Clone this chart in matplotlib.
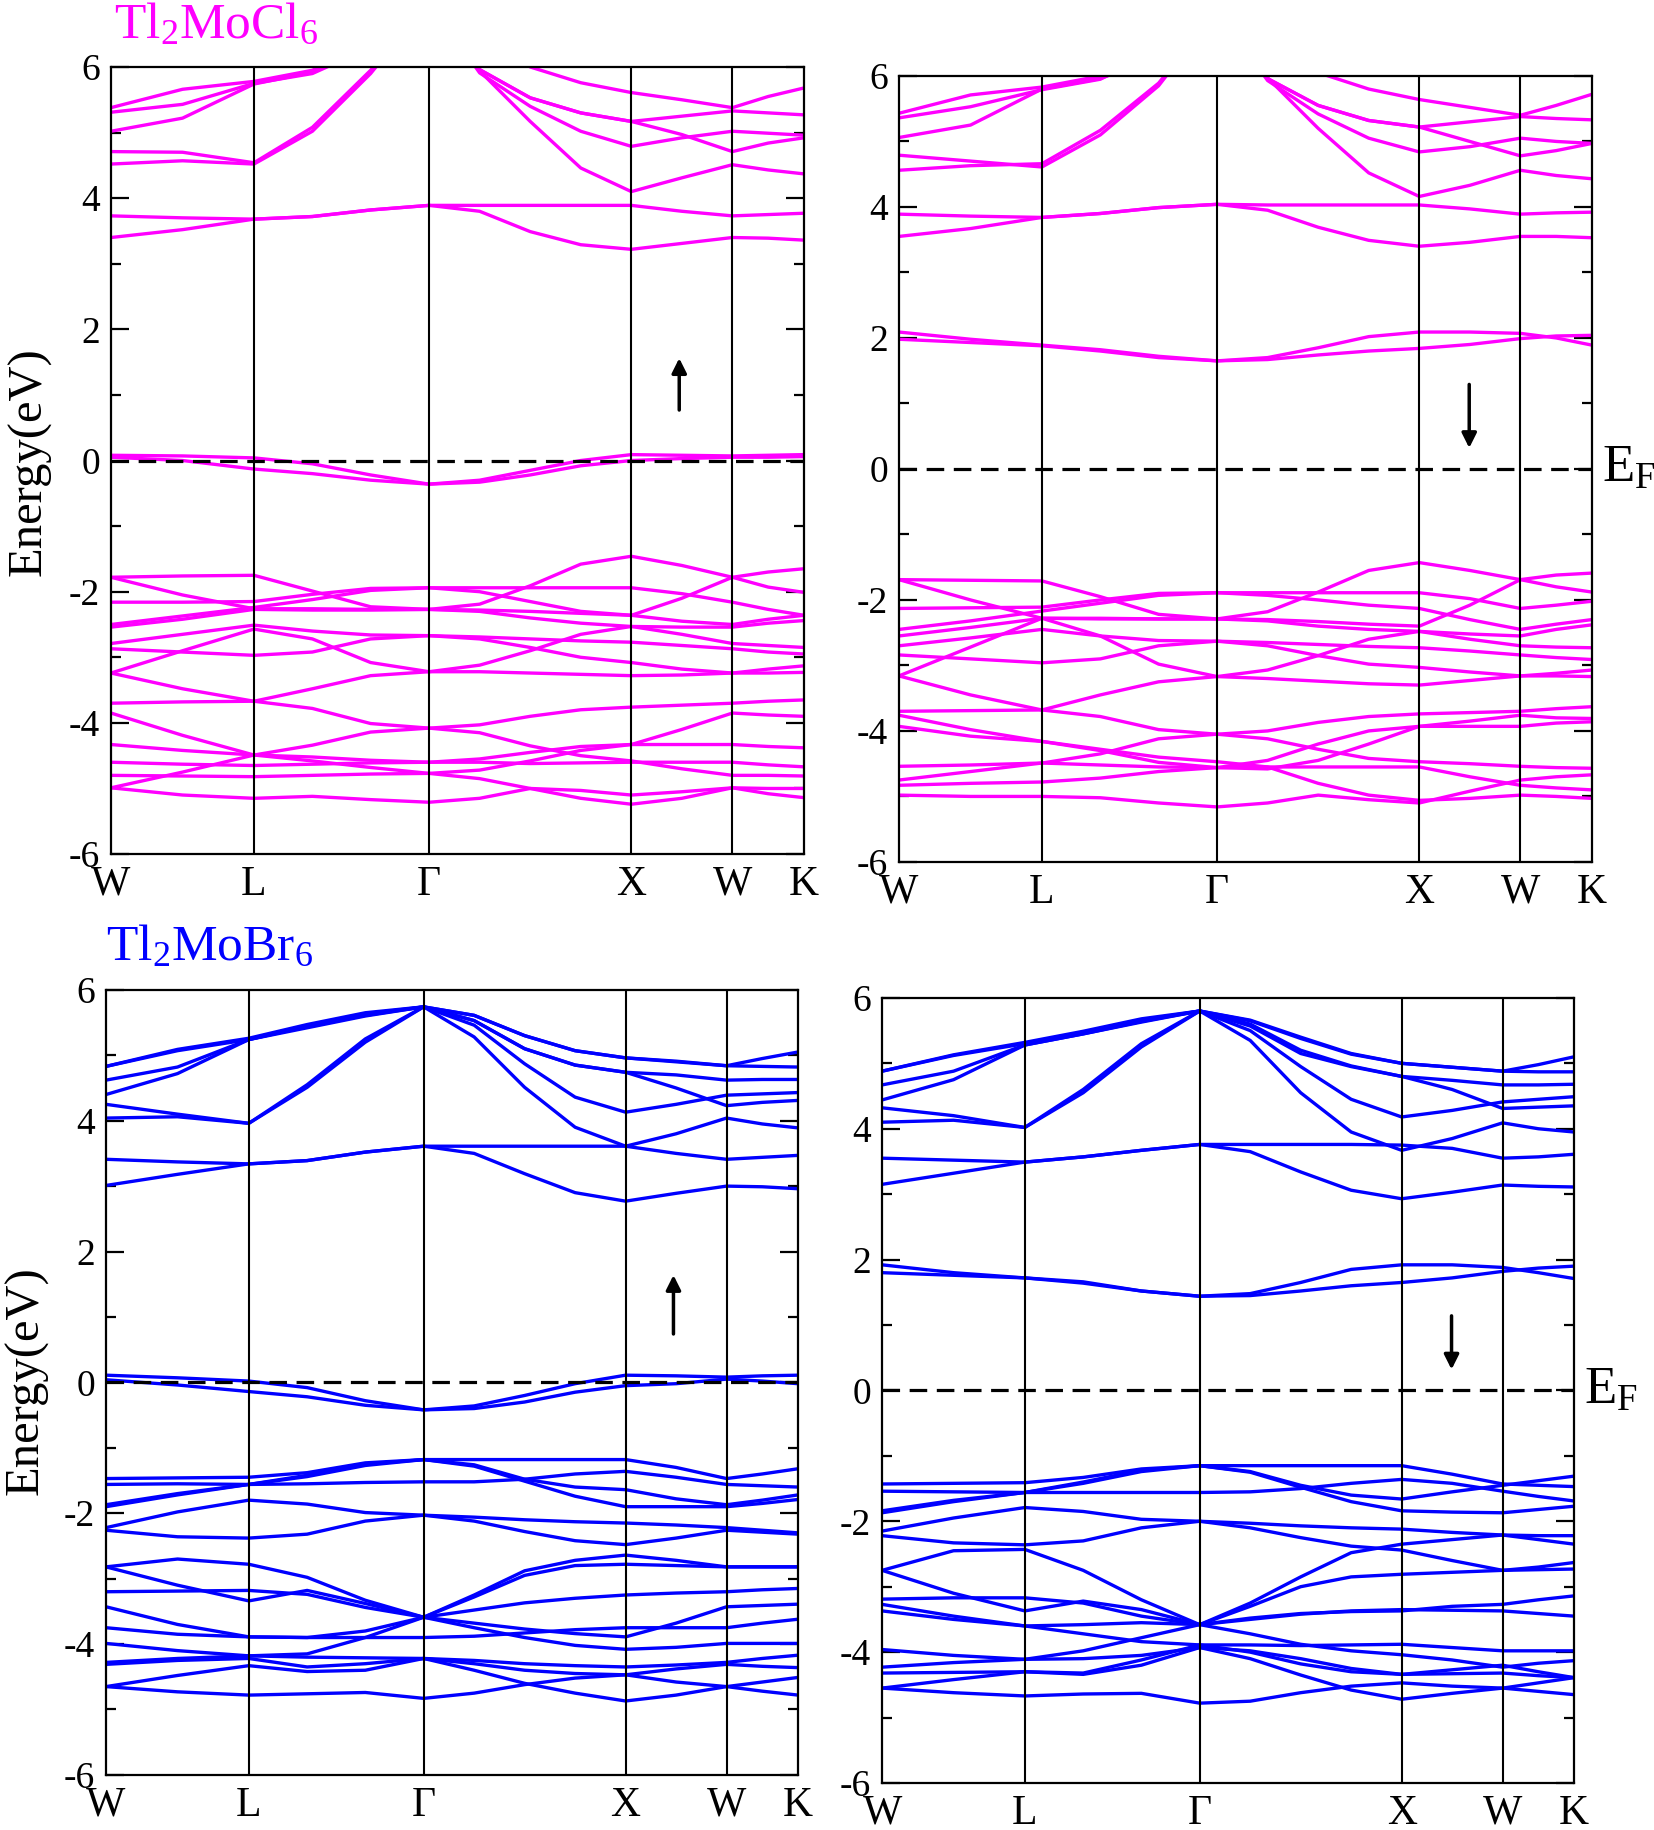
import matplotlib
matplotlib.use('Agg')
import matplotlib.pyplot as plt
from matplotlib.ticker import MultipleLocator

plt.rcParams['font.family'] = ['Liberation Serif', 'DejaVu Serif']
plt.rcParams['mathtext.fontset'] = 'custom'
plt.rcParams['mathtext.rm'] = 'Liberation Serif'
plt.rcParams['axes.unicode_minus'] = False

# k-path: W - L - G - X - W - K, sampled points along the path
knodes = [0.0, 0.707, 1.573, 2.573, 3.073, 3.427]
klabels = ['W', 'L', '\u0393', 'X', 'W', 'K']
kpath = [0.0, 0.354, 0.707, 0.996, 1.284, 1.573, 1.823, 2.073, 2.323,
         2.573, 2.823, 3.073, 3.250, 3.427]

# ---- Tl2MoCl6, spin up ----
cl_up_cond = [
  [3.40, 3.52, 3.68, 3.72, 3.82, 3.89, 3.80, 3.49, 3.29, 3.22, 3.31, 3.40, 3.39, 3.36],
  [3.73, 3.70, 3.68, 3.72, 3.82, 3.89, 3.89, 3.89, 3.89, 3.89, 3.80, 3.73, 3.75, 3.77],
  [4.52, 4.57, 4.52, 5.02, 5.90, 7.00, 5.94, 5.17, 4.46, 4.10, 4.31, 4.51, 4.43, 4.37],
  [4.71, 4.70, 4.54, 5.08, 5.95, 7.00, 5.91, 5.40, 5.02, 4.79, 4.92, 5.02, 4.99, 4.96],
  [5.02, 5.22, 5.74, 5.92, 6.30, 7.00, 5.96, 5.53, 5.30, 5.17, 4.97, 4.71, 4.84, 4.92],
  [5.31, 5.43, 5.75, 5.90, 6.30, 7.00, 6.60, 6.00, 5.76, 5.61, 5.50, 5.38, 5.55, 5.68],
  [5.38, 5.66, 5.78, 5.95, 6.40, 7.00, 5.96, 5.53, 5.30, 5.17, 5.25, 5.33, 5.30, 5.27],
]
cl_up_mid = [
  [0.08, 0.07, 0.04, -0.05, -0.22, -0.36, -0.30, -0.15, 0.00, 0.09, 0.08, 0.07, 0.08, 0.09],
  [0.05, 0.00, -0.13, -0.20, -0.30, -0.36, -0.33, -0.22, -0.08, 0.00, 0.03, 0.05, 0.05, 0.06],
]
cl_up_val = [
  [-1.78, -1.76, -1.75, -1.99, -2.23, -2.27, -2.19, -1.91, -1.58, -1.46, -1.60, -1.78, -1.93, -2.01],
  [-1.78, -2.05, -2.26, -2.26, -2.27, -2.27, -2.28, -2.30, -2.33, -2.36, -2.10, -1.78, -1.70, -1.65],
  [-2.16, -2.16, -2.15, -2.04, -1.95, -1.94, -1.94, -1.94, -1.94, -1.94, -2.03, -2.16, -2.27, -2.36],
  [-2.50, -2.37, -2.24, -2.12, -1.98, -1.94, -2.00, -2.15, -2.30, -2.36, -2.45, -2.50, -2.42, -2.36],
  [-2.54, -2.42, -2.27, -2.28, -2.28, -2.27, -2.30, -2.40, -2.48, -2.53, -2.54, -2.54, -2.48, -2.44],
  [-2.79, -2.65, -2.51, -2.60, -2.66, -2.67, -2.69, -2.72, -2.75, -2.77, -2.82, -2.87, -2.92, -2.95],
  [-3.24, -2.90, -2.57, -2.72, -3.08, -3.22, -3.12, -2.90, -2.65, -2.53, -2.65, -2.79, -2.82, -2.85],
  [-2.87, -2.92, -2.97, -2.92, -2.72, -2.67, -2.72, -2.85, -3.00, -3.08, -3.18, -3.24, -3.18, -3.13],
  [-3.24, -3.48, -3.67, -3.48, -3.28, -3.22, -3.22, -3.24, -3.26, -3.28, -3.27, -3.24, -3.24, -3.23],
  [-3.70, -3.68, -3.67, -3.78, -4.01, -4.08, -4.03, -3.90, -3.80, -3.76, -3.73, -3.70, -3.67, -3.65],
  [-3.85, -4.19, -4.49, -4.34, -4.14, -4.08, -4.15, -4.35, -4.50, -4.58, -4.70, -4.80, -4.80, -4.81],
  [-4.33, -4.42, -4.49, -4.58, -4.68, -4.77, -4.72, -4.58, -4.42, -4.33, -4.10, -3.85, -3.88, -3.90],
  [-4.60, -4.63, -4.65, -4.63, -4.61, -4.60, -4.55, -4.45, -4.36, -4.33, -4.33, -4.33, -4.36, -4.38],
  [-4.80, -4.81, -4.82, -4.80, -4.78, -4.77, -4.85, -5.00, -5.15, -5.24, -5.15, -4.99, -5.08, -5.14],
  [-4.99, -4.75, -4.49, -4.52, -4.57, -4.60, -4.60, -4.62, -4.61, -4.60, -4.60, -4.60, -4.64, -4.67],
  [-4.99, -5.10, -5.15, -5.12, -5.17, -5.21, -5.15, -5.00, -5.03, -5.10, -5.05, -4.99, -5.00, -5.00],
]

# ---- Tl2MoCl6, spin down ----
cl_dn_cond = [
  [2.09, 1.98, 1.89, 1.82, 1.72, 1.65, 1.70, 1.85, 2.02, 2.09, 2.09, 2.07, 2.00, 1.89],
  [1.98, 1.93, 1.88, 1.80, 1.70, 1.65, 1.67, 1.74, 1.80, 1.84, 1.90, 1.99, 2.03, 2.04],
  [3.55, 3.67, 3.84, 3.90, 3.99, 4.04, 3.95, 3.69, 3.49, 3.40, 3.46, 3.55, 3.55, 3.53],
  [3.89, 3.86, 3.84, 3.90, 3.99, 4.04, 4.03, 4.03, 4.03, 4.03, 3.97, 3.89, 3.91, 3.92],
  [4.56, 4.63, 4.66, 5.17, 5.89, 7.00, 5.97, 5.20, 4.52, 4.16, 4.33, 4.56, 4.48, 4.43],
  [4.79, 4.70, 4.61, 5.10, 5.85, 7.00, 5.93, 5.42, 5.05, 4.84, 4.92, 5.05, 5.00, 4.97],
  [5.06, 5.25, 5.80, 5.96, 6.30, 7.00, 5.96, 5.55, 5.32, 5.22, 5.00, 4.78, 4.86, 4.97],
  [5.36, 5.53, 5.79, 5.95, 6.40, 7.00, 6.60, 6.05, 5.80, 5.64, 5.52, 5.40, 5.55, 5.72],
  [5.43, 5.71, 5.83, 6.00, 6.50, 7.00, 5.96, 5.55, 5.32, 5.22, 5.30, 5.38, 5.35, 5.33],
]
cl_dn_val = [
  [-1.69, -1.70, -1.71, -1.95, -2.22, -2.29, -2.18, -1.88, -1.55, -1.43, -1.55, -1.69, -1.80, -1.88],
  [-1.69, -2.00, -2.28, -2.28, -2.29, -2.29, -2.30, -2.33, -2.37, -2.40, -2.08, -1.69, -1.62, -1.59],
  [-2.13, -2.12, -2.11, -2.00, -1.90, -1.89, -1.89, -1.89, -1.89, -1.89, -1.98, -2.13, -2.08, -2.02],
  [-2.45, -2.32, -2.17, -2.05, -1.93, -1.89, -1.93, -2.00, -2.08, -2.13, -2.30, -2.45, -2.37, -2.30],
  [-2.55, -2.42, -2.28, -2.29, -2.29, -2.29, -2.32, -2.40, -2.45, -2.48, -2.52, -2.55, -2.45, -2.38],
  [-2.70, -2.58, -2.45, -2.55, -2.62, -2.63, -2.65, -2.68, -2.71, -2.73, -2.78, -2.84, -2.88, -2.91],
  [-3.16, -2.72, -2.28, -2.55, -2.98, -3.17, -3.07, -2.85, -2.60, -2.48, -2.60, -2.70, -2.72, -2.73],
  [-2.84, -2.90, -2.96, -2.90, -2.70, -2.63, -2.70, -2.85, -2.98, -3.03, -3.10, -3.16, -3.12, -3.07],
  [-3.16, -3.45, -3.68, -3.45, -3.25, -3.17, -3.20, -3.24, -3.28, -3.30, -3.23, -3.16, -3.16, -3.17],
  [-3.70, -3.69, -3.68, -3.78, -3.98, -4.05, -4.00, -3.87, -3.78, -3.74, -3.72, -3.70, -3.66, -3.63],
  [-3.76, -3.98, -4.16, -4.28, -4.40, -4.47, -4.55, -4.80, -4.98, -5.06, -5.03, -4.98, -5.00, -5.03],
  [-3.93, -4.08, -4.16, -4.30, -4.48, -4.56, -4.45, -4.20, -4.00, -3.93, -3.85, -3.76, -3.80, -3.81],
  [-4.54, -4.52, -4.49, -4.35, -4.12, -4.05, -4.12, -4.28, -4.42, -4.47, -4.50, -4.54, -4.56, -4.57],
  [-4.75, -4.62, -4.49, -4.52, -4.55, -4.56, -4.55, -4.55, -4.55, -4.55, -4.70, -4.83, -4.87, -4.90],
  [-4.83, -4.80, -4.78, -4.72, -4.62, -4.56, -4.58, -4.45, -4.20, -3.93, -3.93, -3.93, -3.88, -3.86],
  [-4.98, -5.00, -5.00, -5.02, -5.10, -5.16, -5.10, -4.98, -5.05, -5.10, -4.92, -4.75, -4.70, -4.67],
]

# ---- Tl2MoBr6, spin up ----
br_up_cond = [
  [3.01, 3.18, 3.34, 3.39, 3.52, 3.61, 3.50, 3.19, 2.90, 2.77, 2.89, 3.00, 2.99, 2.96],
  [3.41, 3.37, 3.34, 3.39, 3.52, 3.61, 3.61, 3.61, 3.61, 3.61, 3.50, 3.41, 3.44, 3.47],
  [4.04, 4.06, 3.96, 4.51, 5.20, 5.74, 5.28, 4.51, 3.90, 3.61, 3.80, 4.04, 3.95, 3.89],
  [4.25, 4.10, 3.96, 4.55, 5.25, 5.74, 5.46, 4.87, 4.36, 4.13, 4.25, 4.39, 4.41, 4.43],
  [4.40, 4.72, 5.24, 5.44, 5.61, 5.74, 5.53, 5.10, 4.85, 4.74, 4.50, 4.23, 4.28, 4.31],
  [4.62, 4.82, 5.24, 5.42, 5.60, 5.74, 5.53, 5.10, 4.85, 4.74, 4.70, 4.62, 4.63, 4.63],
  [4.83, 5.07, 5.24, 5.45, 5.63, 5.74, 5.61, 5.30, 5.07, 4.96, 4.90, 4.84, 4.83, 4.82],
  [4.83, 5.09, 5.26, 5.47, 5.65, 5.74, 5.61, 5.30, 5.07, 4.96, 4.91, 4.84, 4.95, 5.05],
]
br_up_mid = [
  [0.11, 0.07, 0.02, -0.08, -0.28, -0.42, -0.36, -0.20, -0.02, 0.11, 0.10, 0.08, 0.10, 0.11],
  [0.04, -0.04, -0.14, -0.22, -0.35, -0.42, -0.40, -0.30, -0.15, -0.05, -0.02, 0.05, 0.02, -0.02],
]
br_up_val = [
  [-1.47, -1.46, -1.45, -1.38, -1.23, -1.18, -1.18, -1.18, -1.18, -1.18, -1.30, -1.47, -1.40, -1.32],
  [-1.56, -1.55, -1.56, -1.55, -1.53, -1.52, -1.52, -1.48, -1.40, -1.36, -1.45, -1.56, -1.58, -1.60],
  [-1.90, -1.72, -1.56, -1.42, -1.25, -1.18, -1.28, -1.51, -1.74, -1.90, -1.90, -1.90, -1.85, -1.79],
  [-1.87, -1.70, -1.56, -1.44, -1.27, -1.18, -1.26, -1.48, -1.60, -1.64, -1.78, -1.87, -1.80, -1.72],
  [-2.22, -1.98, -1.80, -1.86, -1.99, -2.03, -2.06, -2.10, -2.13, -2.15, -2.18, -2.22, -2.26, -2.30],
  [-2.26, -2.36, -2.38, -2.32, -2.12, -2.03, -2.12, -2.28, -2.42, -2.48, -2.38, -2.26, -2.29, -2.32],
  [-2.82, -2.70, -2.78, -2.98, -3.33, -3.59, -3.25, -2.88, -2.72, -2.64, -2.72, -2.82, -2.82, -2.82],
  [-2.82, -3.10, -3.34, -3.18, -3.38, -3.59, -3.28, -2.95, -2.80, -2.78, -2.80, -2.82, -2.82, -2.82],
  [-3.20, -3.19, -3.18, -3.24, -3.44, -3.59, -3.48, -3.37, -3.30, -3.25, -3.22, -3.20, -3.17, -3.15],
  [-3.43, -3.70, -3.89, -3.90, -3.80, -3.59, -3.68, -3.77, -3.84, -3.89, -3.68, -3.43, -3.41, -3.39],
  [-3.75, -3.85, -3.89, -3.90, -3.90, -3.90, -3.88, -3.83, -3.78, -3.75, -3.75, -3.75, -3.68, -3.62],
  [-3.99, -4.10, -4.18, -4.15, -3.90, -3.59, -3.75, -3.90, -4.02, -4.08, -4.05, -3.99, -3.99, -3.99],
  [-4.28, -4.22, -4.18, -4.20, -4.21, -4.22, -4.25, -4.30, -4.33, -4.35, -4.32, -4.28, -4.22, -4.17],
  [-4.31, -4.25, -4.22, -4.35, -4.30, -4.22, -4.30, -4.40, -4.45, -4.47, -4.58, -4.65, -4.58, -4.51],
  [-4.65, -4.48, -4.33, -4.42, -4.40, -4.22, -4.40, -4.60, -4.75, -4.87, -4.78, -4.65, -4.72, -4.78],
  [-4.65, -4.73, -4.78, -4.76, -4.74, -4.83, -4.75, -4.62, -4.52, -4.47, -4.38, -4.31, -4.34, -4.36],
]

# ---- Tl2MoBr6, spin down ----
br_dn_cond = [
  [1.92, 1.80, 1.72, 1.66, 1.52, 1.44, 1.48, 1.65, 1.85, 1.92, 1.92, 1.88, 1.80, 1.71],
  [1.80, 1.76, 1.72, 1.64, 1.52, 1.44, 1.45, 1.52, 1.60, 1.65, 1.72, 1.82, 1.87, 1.90],
  [3.15, 3.32, 3.49, 3.57, 3.67, 3.76, 3.65, 3.34, 3.06, 2.93, 3.03, 3.14, 3.12, 3.11],
  [3.55, 3.52, 3.49, 3.57, 3.67, 3.76, 3.76, 3.76, 3.76, 3.75, 3.70, 3.55, 3.57, 3.61],
  [4.10, 4.13, 4.02, 4.55, 5.25, 5.80, 5.35, 4.55, 3.95, 3.67, 3.85, 4.09, 4.00, 3.95],
  [4.32, 4.20, 4.02, 4.60, 5.30, 5.80, 5.50, 4.95, 4.45, 4.18, 4.28, 4.41, 4.45, 4.49],
  [4.44, 4.75, 5.28, 5.45, 5.63, 5.80, 5.57, 5.15, 4.95, 4.80, 4.60, 4.31, 4.33, 4.35],
  [4.67, 4.88, 5.28, 5.45, 5.64, 5.80, 5.60, 5.20, 4.96, 4.80, 4.74, 4.67, 4.67, 4.68],
  [4.88, 5.12, 5.30, 5.47, 5.66, 5.80, 5.65, 5.38, 5.14, 5.00, 4.94, 4.88, 4.87, 4.87],
  [4.88, 5.13, 5.32, 5.49, 5.68, 5.80, 5.66, 5.40, 5.15, 5.00, 4.94, 4.88, 4.98, 5.10],
]
br_dn_val = [
  [-1.43, -1.42, -1.41, -1.33, -1.20, -1.15, -1.15, -1.15, -1.15, -1.15, -1.28, -1.43, -1.45, -1.47],
  [-1.54, -1.55, -1.56, -1.56, -1.56, -1.56, -1.55, -1.50, -1.42, -1.36, -1.42, -1.54, -1.62, -1.69],
  [-1.87, -1.70, -1.56, -1.40, -1.22, -1.15, -1.25, -1.48, -1.70, -1.84, -1.86, -1.87, -1.82, -1.77],
  [-1.84, -1.68, -1.56, -1.42, -1.24, -1.15, -1.24, -1.45, -1.60, -1.66, -1.55, -1.45, -1.38, -1.31],
  [-2.15, -1.95, -1.79, -1.85, -1.97, -2.00, -2.03, -2.07, -2.10, -2.12, -2.17, -2.21, -2.22, -2.22],
  [-2.22, -2.33, -2.36, -2.30, -2.10, -2.00, -2.10, -2.25, -2.38, -2.44, -2.60, -2.75, -2.70, -2.63],
  [-2.75, -2.45, -2.43, -2.75, -3.20, -3.58, -3.25, -2.85, -2.48, -2.35, -2.28, -2.21, -2.28, -2.35],
  [-2.75, -3.10, -3.37, -3.22, -3.35, -3.58, -3.30, -3.00, -2.85, -2.81, -2.78, -2.75, -2.74, -2.73],
  [-3.19, -3.17, -3.17, -3.25, -3.45, -3.58, -3.50, -3.42, -3.37, -3.35, -3.36, -3.37, -3.41, -3.45],
  [-3.27, -3.45, -3.60, -3.58, -3.55, -3.58, -3.48, -3.41, -3.38, -3.37, -3.30, -3.27, -3.20, -3.14],
  [-3.37, -3.50, -3.60, -3.72, -3.84, -3.89, -3.89, -3.90, -3.89, -3.88, -3.93, -3.98, -3.98, -3.98],
  [-3.96, -4.05, -4.11, -3.98, -3.78, -3.58, -3.72, -3.88, -3.98, -4.04, -4.12, -4.23, -4.17, -4.13],
  [-4.23, -4.16, -4.11, -4.10, -4.05, -3.93, -4.10, -4.35, -4.58, -4.72, -4.63, -4.55, -4.60, -4.65],
  [-4.32, -4.31, -4.30, -4.34, -4.20, -3.93, -3.98, -4.10, -4.25, -4.34, -4.27, -4.20, -4.30, -4.39],
  [-4.55, -4.42, -4.30, -4.32, -4.12, -3.89, -4.00, -4.18, -4.30, -4.34, -4.33, -4.32, -4.36, -4.39],
  [-4.55, -4.62, -4.67, -4.64, -4.63, -4.78, -4.75, -4.62, -4.52, -4.47, -4.52, -4.55, -4.47, -4.39],
]

# spin arrows: (k, tail energy, head energy)
arrows = {
  'cl_up': (2.81, 0.77, 1.56),
  'cl_dn': (2.82, 1.29, 0.32),
  'br_up': (2.81, 0.74, 1.64),
  'br_dn': (2.82, 1.14, 0.32),
}

MAGENTA = '#ff00ff'
BLUE = '#0000ff'


def draw_panel(ax, bands, color, arrow, ef):
  for b in bands:
    ax.plot(kpath, b, color=color, lw=2.4, zorder=2, solid_joinstyle='round')
  for kn in knodes[1:-1]:
    ax.axvline(kn, color='k', lw=1.5, zorder=3)
  ax.axhline(0.0, color='k', lw=2.3, ls=(0, (5.5, 3)), zorder=4)
  ax.set_xlim(knodes[0], knodes[-1])
  ax.set_ylim(-6, 6)
  ax.set_xticks(knodes)
  ax.set_xticklabels(klabels, fontsize=30)
  ax.tick_params(axis='x', length=0, pad=8)
  ax.yaxis.set_minor_locator(MultipleLocator(1))
  ax.set_yticks([-6, -4, -2, 0, 2, 4, 6])
  ax.set_yticklabels(['-6', '-4', '-2', '0', '2', '4', '6'], fontsize=27)
  ax.tick_params(axis='y', which='both', direction='in', left=True, right=True,
                 width=1.6)
  ax.tick_params(axis='y', which='major', length=13, pad=8)
  ax.tick_params(axis='y', which='minor', length=7)
  for sp in ax.spines.values():
    sp.set_linewidth(1.6)
  k, y0, y1 = arrow
  ax.annotate('', xy=(k, y1), xytext=(k, y0),
              arrowprops=dict(arrowstyle='-|>', color='k', lw=2.5,
                              mutation_scale=22, shrinkA=0, shrinkB=0))
  if ef:
    ax.text(1.015, 0.0, 'E$\\mathregular{_F}$', fontsize=38, ha='left',
            va='center', transform=ax.get_yaxis_transform())


fig = plt.figure(figsize=(16.54, 18.30), dpi=100)

ax_tl = fig.add_axes([0.0671, 0.5333, 0.4190, 0.4301])
ax_tr = fig.add_axes([0.5435, 0.5290, 0.4190, 0.4295])
ax_bl = fig.add_axes([0.0641, 0.0301, 0.4184, 0.4290])
ax_br = fig.add_axes([0.5333, 0.0257, 0.4184, 0.4290])

draw_panel(ax_tl, cl_up_cond + cl_up_mid + cl_up_val, MAGENTA, arrows['cl_up'], False)
draw_panel(ax_tr, cl_dn_cond + cl_dn_val, MAGENTA, arrows['cl_dn'], True)
draw_panel(ax_bl, br_up_cond + br_up_mid + br_up_val, BLUE, arrows['br_up'], False)
draw_panel(ax_br, br_dn_cond + br_dn_val, BLUE, arrows['br_dn'], True)

fig.text(0.0690, 0.979, 'Tl$\\mathregular{_2}$MoCl$\\mathregular{_6}$', color=MAGENTA,
         fontsize=37, ha='left', va='baseline')
fig.text(0.0640, 0.4754, 'Tl$\\mathregular{_2}$MoBr$\\mathregular{_6}$', color=BLUE,
         fontsize=37, ha='left', va='baseline')
fig.text(0.018, 0.7475, 'Energy(eV)', rotation=90, fontsize=35, ha='center', va='center')
fig.text(0.0157, 0.2453, 'Energy(eV)', rotation=90, fontsize=35, ha='center', va='center')

fig.savefig('out.png', dpi=100)
